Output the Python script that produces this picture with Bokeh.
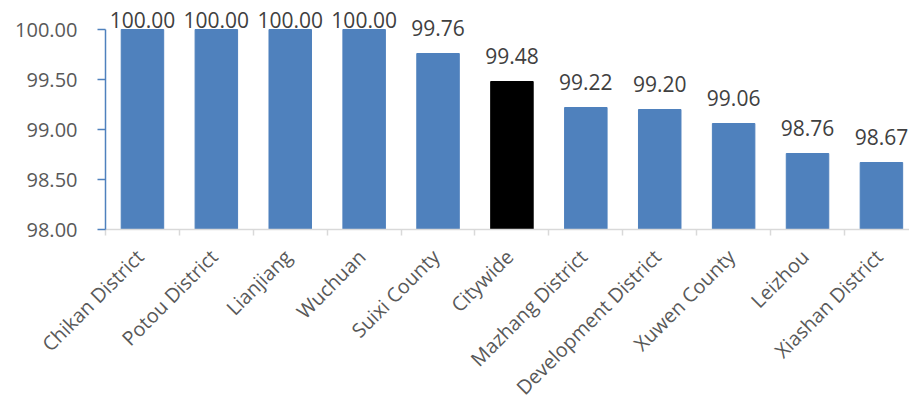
import numpy as np
from math import pi
from bokeh.plotting import figure
from bokeh.layouts import column
from bokeh.models import ColumnDataSource, FixedTicker, Range1d
from bokeh.core.properties import value
from bokeh.embed import file_html
from bokeh.resources import INLINE

categories = ["Chikan District", "Potou District", "Lianjiang", "Wuchuan", "Suixi County",
              "Citywide", "Mazhang District", "Development District", "Xuwen County",
              "Leizhou", "Xiashan District"]
values = [100.00, 100.00, 100.00, 100.00, 99.76, 99.48, 99.22, 99.20, 99.06, 98.76, 98.67]
highlight = "Citywide"
y_ticks = [98.0, 98.5, 99.0, 99.5, 100.0]

BLUE = "#4F81BD"
FONT = "Open Sans"
W = 909
LEFT = 105
MAIN_H = 243
LAB_H = 400 - MAIN_H
X_END = 10.88

n = len(categories)
xs = np.arange(n) + 0.5
vals = np.array(values)
colors = ["#000000" if c == highlight else BLUE for c in categories]
labels = ["%.2f" % v for v in values]
label_y = np.minimum(vals + 0.26, 100.10)

src = ColumnDataSource(dict(x=xs, top=vals, color=colors, label=labels, ly=label_y,
                            cat=categories, ty=np.ones(n)))

xr = Range1d(0, X_END)
p = figure(width=W, height=MAIN_H, output_backend="svg", toolbar_location=None,
           x_range=xr, y_range=Range1d(98, 100.29), frame_align=False,
           min_border_left=LEFT, min_border_right=0, min_border_top=0,
           min_border_bottom=MAIN_H - 229)
p.outline_line_color = None
p.xgrid.visible = False
p.ygrid.visible = False

p.vbar(x="x", top="top", bottom=98, width=0.575, source=src,
       fill_color="color", line_color="color", line_width=1)

p.text(x="x", y="ly", text="label", source=src, text_align="center",
       text_baseline="alphabetic", text_font=value(FONT), text_font_size="21px",
       text_color="#404040")

# y axis
ya = p.yaxis[0]
ya.ticker = FixedTicker(ticks=y_ticks, minor_ticks=[])
ya.major_label_overrides = {t: "%.2f" % t for t in y_ticks}
ya.bounds = (98, 100)
ya.axis_line_color = BLUE
ya.axis_line_width = 1.5
ya.major_tick_line_color = BLUE
ya.major_tick_line_width = 1.5
ya.major_tick_in = 0
ya.major_tick_out = 8
ya.minor_tick_line_color = None
ya.major_label_standoff = 20
ya.major_label_text_font = FONT
ya.major_label_text_font_size = "20px"
ya.major_label_text_color = "#595959"

# x axis: category boundary ticks only
xa = p.xaxis[0]
xa.ticker = FixedTicker(ticks=[], minor_ticks=list(np.arange(n + 1)))
xa.axis_line_color = "#D9D9D9"
xa.axis_line_width = 1.5
xa.major_tick_line_color = None
xa.minor_tick_line_color = "#D9D9D9"
xa.minor_tick_line_width = 1.5
xa.minor_tick_in = 0
xa.minor_tick_out = 6
xa.major_label_text_font_size = "0px"

# category labels panel: full-width frame aligned with the main plot's x scale
cw = (W - LEFT) / X_END
q = figure(width=W, height=LAB_H, output_backend="svg", toolbar_location=None,
           x_range=Range1d(-LEFT / cw, X_END), y_range=Range1d(0, 1), frame_align=False,
           x_axis_location=None, y_axis_location=None,
           min_border_left=0, min_border_right=0, min_border_top=0, min_border_bottom=0)
q.outline_line_color = None
q.xgrid.visible = False
q.ygrid.visible = False
q.text(x="x", y="ty", text="cat", source=src, angle=pi / 4,
       text_align="right", text_baseline="top", x_offset=-12, y_offset=0,
       text_font=value(FONT), text_font_size="19.8px", text_color="#595959")

layout = column(p, q, spacing=0)
open("out.html", "w").write(file_html(layout, INLINE))
